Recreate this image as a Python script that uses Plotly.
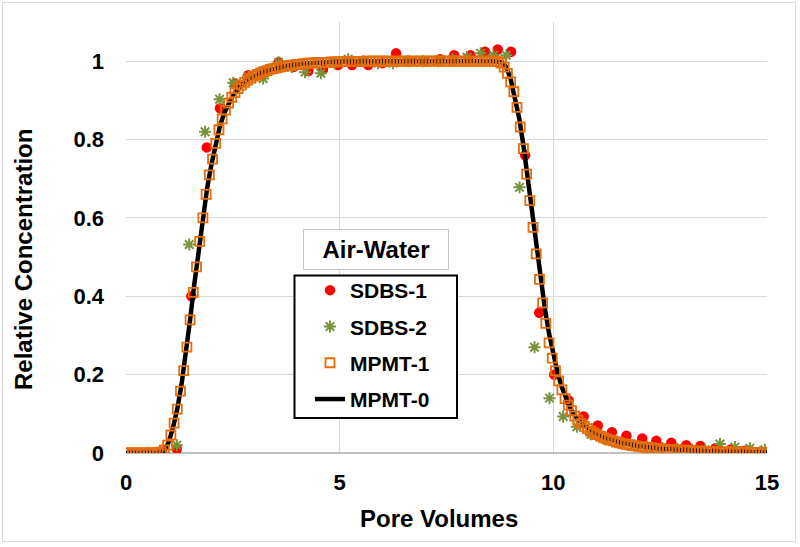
import plotly.graph_objects as go

# ---------------- data ----------------
sdbs1_x = [0.13, 0.48, 0.83, 1.19, 1.53, 1.89, 2.2, 2.55, 2.86, 3.21, 3.57, 3.92, 4.27, 4.61, 4.96,
           5.29, 5.67, 6.0, 6.32, 6.67, 7.0, 7.35, 7.68, 8.06, 8.4, 8.7, 9.01, 9.34, 9.67, 10.02,
           10.36, 10.71, 11.04, 11.37, 11.71, 12.08, 12.41, 12.76, 13.11, 13.44, 13.79, 14.15, 14.47, 14.83]
sdbs1_y = [0, 0, 0, 0.01, 0.40, 0.78, 0.88, 0.943, 0.964, 0.973, 0.997, 0.985, 0.975, 0.979, 0.99,
           0.99, 0.99, 0.995, 1.02, 1.0, 1.0, 1.005, 1.015, 1.015, 1.024, 1.03, 1.024, 0.76, 0.358, 0.2,
           0.134, 0.093, 0.07, 0.053, 0.044, 0.037, 0.031, 0.026, 0.02, 0.018, 0.012, 0.009, 0.006, 0.003]

sdbs2_x = [0.17, 0.52, 0.87, 1.19, 1.48, 1.85, 2.19, 2.51, 2.87, 3.21, 3.57, 3.88, 4.19, 4.56, 4.88,
           5.2, 5.55, 5.9, 6.25, 6.6, 6.95, 7.3, 7.65, 7.98, 8.3, 8.6, 8.9, 9.21, 9.56, 9.91,
           10.23, 10.55, 10.88, 11.2, 11.55, 11.9, 12.2, 12.55, 12.9, 13.25, 13.55, 13.9, 14.25, 14.6, 14.95]
sdbs2_y = [0, 0, 0, 0.02, 0.532, 0.82, 0.903, 0.945, 0.96, 0.956, 0.997, 0.985, 0.972, 0.969, 0.995,
           1.005, 1.0, 0.995, 0.995, 1.0, 1.0, 1.0, 1.005, 1.01, 1.02, 1.015, 1.015, 0.678, 0.27, 0.14,
           0.093, 0.067, 0.048, 0.036, 0.027, 0.02, 0.016, 0.013, 0.01, 0.009, 0.008, 0.023, 0.015, 0.012, 0.008]

mpmt1_x = [0, 0.075, 0.15, 0.225, 0.3, 0.375, 0.45, 0.525, 0.6, 0.675, 0.75, 0.825, 0.9, 0.975,
           1.05, 1.125, 1.2, 1.275, 1.35, 1.425, 1.5, 1.575, 1.65, 1.725, 1.8, 1.875, 1.95, 2.025,
           2.1, 2.175, 2.25, 2.325, 2.4, 2.475, 2.55, 2.625, 2.7, 2.775, 2.85, 2.925, 3.0, 3.075,
           3.15, 3.225, 3.3, 3.375, 3.45, 3.525, 3.6, 3.675, 3.75, 3.825, 3.9, 3.975, 4.05, 4.125,
           4.2, 4.275, 4.35, 4.425, 4.5, 4.575, 4.65, 4.725, 4.8, 4.875, 4.95, 5.025, 5.1, 5.175,
           5.25, 5.325, 5.4, 5.475, 5.55, 5.625, 5.7, 5.775, 5.85, 5.925, 6.0, 6.075, 6.15, 6.225,
           6.3, 6.375, 6.45, 6.525, 6.6, 6.675, 6.75, 6.825, 6.9, 6.975, 7.05, 7.125, 7.2, 7.275,
           7.35, 7.425, 7.5, 7.575, 7.65, 7.725, 7.8, 7.875, 7.95, 8.025, 8.1, 8.175, 8.25, 8.325,
           8.4, 8.475, 8.55, 8.625, 8.7, 8.775, 8.85, 8.925, 9.0, 9.075, 9.15, 9.225, 9.3, 9.375,
           9.45, 9.525, 9.6, 9.675, 9.75, 9.825, 9.9, 9.975, 10.05, 10.125, 10.2, 10.275, 10.35, 10.425,
           10.5, 10.575, 10.65, 10.725, 10.8, 10.875, 10.95, 11.025, 11.1, 11.175, 11.25, 11.325, 11.4, 11.475,
           11.55, 11.625, 11.7, 11.775, 11.85, 11.925, 12.0, 12.075, 12.15, 12.225, 12.3, 12.375, 12.45, 12.525,
           12.6, 12.675, 12.75, 12.825, 12.9, 12.975, 13.05, 13.125, 13.2, 13.275, 13.35, 13.425, 13.5, 13.575,
           13.65, 13.725, 13.8, 13.875, 13.95, 14.025, 14.1, 14.175, 14.25, 14.325, 14.4, 14.475, 14.55, 14.625,
           14.7, 14.775, 14.85, 14.925, 15.0]
mpmt1_y = [0, 0, 0, 0, 0, 0, 0, 0, 0, 0, 0.001, 0.003, 0.008, 0.02,
           0.046, 0.076, 0.112, 0.158, 0.21, 0.27, 0.34, 0.41, 0.475, 0.54, 0.60, 0.66, 0.71, 0.75,
           0.79, 0.825, 0.853, 0.875, 0.893, 0.908, 0.92, 0.93, 0.939, 0.946, 0.952, 0.957, 0.962, 0.966,
           0.97, 0.973, 0.976, 0.979, 0.981, 0.983, 0.985, 0.987, 0.988, 0.989, 0.99, 0.991, 0.992, 0.993,
           0.994, 0.995, 0.995, 0.996, 0.996, 0.997, 0.997, 0.997, 0.998, 0.998, 0.998, 0.999, 0.999, 0.999,
           0.999, 0.999, 0.999, 0.999, 0.999, 1.0, 1.0, 1.0, 1.0, 1.0, 1.0, 1.0, 1.0, 1.0,
           1.0, 1.0, 1.0, 1.0, 1.0, 1.0, 1.0, 1.0, 1.0, 1.0, 1.0, 1.0, 1.0, 1.0,
           1.0, 1.0, 1.0, 1.0, 1.0, 1.0, 1.0, 1.0, 1.0, 1.0, 1.0, 1.0, 1.0, 1.0,
           1.0, 1.0, 1.0, 1.0, 0.999, 0.995, 0.985, 0.969, 0.947, 0.922, 0.882, 0.832, 0.777, 0.712,
           0.644, 0.576, 0.508, 0.443, 0.383, 0.331, 0.281, 0.242, 0.21, 0.184, 0.161, 0.139, 0.122, 0.108,
           0.094, 0.084, 0.075, 0.068, 0.062, 0.056, 0.051, 0.047, 0.043, 0.039, 0.036, 0.033, 0.031, 0.028,
           0.026, 0.024, 0.022, 0.021, 0.019, 0.018, 0.017, 0.016, 0.015, 0.014, 0.013, 0.012, 0.011, 0.011,
           0.01, 0.009, 0.009, 0.008, 0.008, 0.007, 0.007, 0.006, 0.006, 0.006, 0.005, 0.005, 0.005, 0.004,
           0.004, 0.004, 0.004, 0.003, 0.003, 0.003, 0.003, 0.002, 0.002, 0.002, 0.002, 0.002, 0.002, 0.001,
           0.001, 0.001, 0.001, 0.001, 0.001]

mpmt0_x = [0, 0.6, 0.8, 0.9, 1.0, 1.1, 1.2, 1.3, 1.4, 1.5, 1.6, 1.7, 1.8, 1.9, 2.0, 2.1, 2.2, 2.3,
           2.4, 2.5, 2.7, 2.9, 3.2, 3.5, 3.8, 4.2, 4.6, 5.0, 6.0, 7.0, 8.0, 8.6, 8.8, 8.9, 9.0, 9.1,
           9.2, 9.3, 9.4, 9.5, 9.6, 9.7, 9.8, 9.9, 10.0, 10.1, 10.2, 10.3, 10.4, 10.5, 10.7, 10.9,
           11.2, 11.6, 12.0, 12.5, 13.0, 13.5, 14.0, 14.5, 15.0]
mpmt0_y = [0, 0, 0.001, 0.005, 0.028, 0.065, 0.112, 0.175, 0.25, 0.34, 0.432, 0.518, 0.6, 0.677, 0.737,
           0.79, 0.835, 0.868, 0.893, 0.912, 0.939, 0.956, 0.973, 0.982, 0.989, 0.994, 0.997, 0.999,
           1.0, 1.0, 1.0, 1.0, 0.997, 0.985, 0.955, 0.91, 0.855, 0.785, 0.7, 0.61, 0.52, 0.44, 0.37,
           0.305, 0.25, 0.205, 0.168, 0.138, 0.114, 0.096, 0.072, 0.056, 0.04, 0.026, 0.018, 0.011,
           0.007, 0.005, 0.003, 0.002, 0.001]

x_ticks = [0, 5, 10, 15]
x_tick_text = ["0", "5", "10", "15"]
y_ticks = [0, 0.2, 0.4, 0.6, 0.8, 1.0]
y_tick_text = ["0", "0.2", "0.4", "0.6", "0.8", "1"]

# ---------------- style ----------------
FONT = "Liberation Sans, Arial, Helvetica, sans-serif"
RED = "#FF0000"
GREEN = "#77933C"
ORANGE = "#E46C0A"
GRID = "#D9D9D9"

fig = go.Figure()

fig.add_trace(go.Scatter(
    x=sdbs1_x, y=sdbs1_y, mode="markers", name="SDBS-1",
    legendgroup="a", legendrank=1,
    marker=dict(symbol="circle", size=10.5, color=RED, line=dict(width=0)),
))
fig.add_trace(go.Scatter(
    x=sdbs2_x, y=sdbs2_y, mode="markers", name="SDBS-2",
    legendgroup="b", legendrank=2,
    marker=dict(symbol="asterisk-open", size=10, color=GREEN, line=dict(width=2, color=GREEN)),
))
fig.add_trace(go.Scatter(
    x=mpmt0_x, y=mpmt0_y, mode="lines", name="MPMT-0",
    legendgroup="d", legendrank=4,
    line=dict(color="black", width=4.5),
))
fig.add_trace(go.Scatter(
    x=mpmt1_x, y=mpmt1_y, mode="markers", name="MPMT-1",
    legendgroup="c", legendrank=3,
    marker=dict(symbol="square-open", size=9, color=ORANGE, line=dict(width=1.8, color=ORANGE)),
))

W, H = 800, 547
L, R, T, B = 126, 33, 22, 94
pw, ph = W - L - R, H - T - B


def px(xpix):
    return (xpix - L) / pw


def py(ypix):
    return (H - B - ypix) / ph


fig.update_layout(
    width=W, height=H,
    margin=dict(l=L, r=R, t=T, b=B, autoexpand=False),
    paper_bgcolor="white", plot_bgcolor="white",
    font=dict(family=FONT, color="black"),
    showlegend=True,
    legend=dict(
        x=px(294), y=py(270), xanchor="left", yanchor="top",
        bgcolor="rgba(0,0,0,0)", borderwidth=0,
        font=dict(family=FONT, size=21, color="black", weight="bold"),
        traceorder="grouped", tracegroupgap=6,
        indentation=16, itemwidth=30,
    ),
    xaxis=dict(
        range=[0, 15], tickvals=x_ticks, ticktext=x_tick_text,
        showgrid=True, gridcolor=GRID, gridwidth=1,
        zeroline=False, showline=False,
        ticks="", ticklabelstandoff=14,
        tickfont=dict(family=FONT, size=22, color="black", weight="bold"),
    ),
    yaxis=dict(
        range=[0, 1.1], tickvals=y_ticks, ticktext=y_tick_text,
        showgrid=True, gridcolor=GRID, gridwidth=1,
        zeroline=True, zerolinecolor="#BFBFBF", zerolinewidth=1.5,
        showline=False,
        ticks="", ticklabelstandoff=21,
        tickfont=dict(family=FONT, size=22, color="black", weight="bold"),
    ),
    annotations=[
        dict(text="Pore Volumes", x=px(439), y=py(518), xref="paper", yref="paper",
             xanchor="center", yanchor="middle", showarrow=False,
             font=dict(family=FONT, size=24, color="black", weight="bold")),
        dict(text="Relative Concentration", x=px(23), y=py(259), xref="paper", yref="paper",
             xanchor="center", yanchor="middle", showarrow=False, textangle=-90,
             font=dict(family=FONT, size=24, color="black", weight="bold")),
        dict(text="Air-Water", x=px(375.5), y=py(249), xref="paper", yref="paper",
             xanchor="center", yanchor="middle", showarrow=False,
             width=140, height=35, borderpad=2, bordercolor="#C8C8C8", borderwidth=1,
             bgcolor="white",
             font=dict(family=FONT, size=24, color="black", weight="bold")),
    ],
    shapes=[
        # outer chart frame
        dict(type="rect", xref="paper", yref="paper",
             x0=px(2.5), x1=px(795.5), y0=py(541.5), y1=py(2.5),
             line=dict(color="#D9D9D9", width=1), fillcolor="rgba(0,0,0,0)", layer="below"),
        # legend frame
        dict(type="rect", xref="paper", yref="paper",
             x0=px(294.5), x1=px(457), y0=py(418), y1=py(275.5),
             line=dict(color="black", width=2), fillcolor="white", layer="above"),
    ],
)

fig.write_html("out.html", config={"displayModeBar": False},
               post_script="document.body.style.margin='0';document.body.style.overflow='hidden';")
